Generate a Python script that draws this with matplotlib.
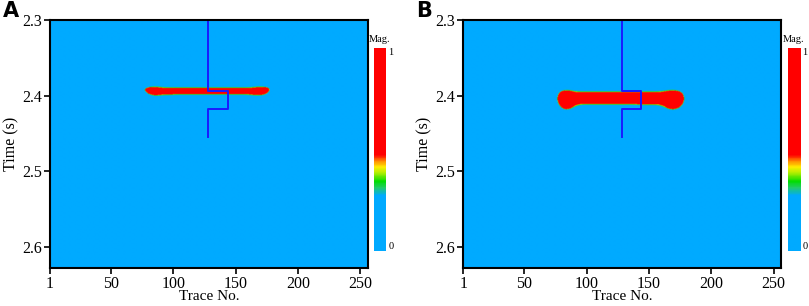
import numpy as np
import matplotlib

matplotlib.use("Agg")
import matplotlib.pyplot as plt  # noqa: E402
from matplotlib.colors import LinearSegmentedColormap  # noqa: E402

# event outline: trace number, top and bottom time (s)
a_traces = [77, 80, 85, 91, 100, 130, 160, 166, 171, 175, 177]
a_top = [2.3925, 2.3905, 2.3900, 2.3910, 2.3915, 2.3915, 2.3915, 2.3905, 2.3900, 2.3905, 2.3925]
a_bot = [2.3935, 2.3980, 2.4000, 2.3990, 2.3985, 2.3985, 2.3985, 2.3995, 2.3995, 2.3975, 2.3935]

b_traces = [77, 78, 80, 83, 87, 91, 95, 110, 140, 158, 162, 166, 170, 174, 177, 178]
b_top = [2.4040, 2.3985, 2.3955, 2.3945, 2.3950, 2.3965, 2.3970, 2.3970, 2.3970, 2.3970, 2.3960, 2.3950, 2.3945, 2.3955, 2.3985, 2.4040]
b_bot = [2.4060, 2.4115, 2.4160, 2.4185, 2.4175, 2.4130, 2.4115, 2.4115, 2.4115, 2.4120, 2.4140, 2.4175, 2.4185, 2.4165, 2.4115, 2.4060]

# blue polyline (well path)
well_trace = [128, 128, 144, 144, 128, 128]
well_time = [2.300, 2.3935, 2.3935, 2.418, 2.418, 2.455]

trace_range = (1, 256)
time_range = (2.3, 2.628)
x_ticks = [1, 50, 100, 150, 200, 250]
y_ticks = [2.3, 2.4, 2.5, 2.6]

cmap = LinearSegmentedColormap.from_list(
    "mag",
    [(0.0, "#00aaff"), (0.27, "#00aaff"), (0.31, "#22cc66"), (0.34, "#00dd00"),
     (0.38, "#aaee00"), (0.41, "#ffee00"), (0.44, "#ff8800"), (0.47, "#ff0000"),
     (1.0, "#ff0000")],
)


def _blur(arr, sigma, axis):
    r = int(3 * sigma) + 1
    k = np.exp(-0.5 * (np.arange(-r, r + 1) / sigma) ** 2)
    k /= k.sum()
    return np.apply_along_axis(lambda v: np.convolve(v, k, mode="same"), axis, arr)


def magnitude(traces, tops, bots):
    tr = np.arange(trace_range[0], trace_range[1] + 0.01, 0.5)
    tm = np.arange(time_range[0], time_range[1] + 1e-6, 0.0005)
    top = np.interp(tr, traces, tops, left=np.nan, right=np.nan)
    bot = np.interp(tr, traces, bots, left=np.nan, right=np.nan)
    T = tm[:, None]
    mask = ((T >= top[None, :]) & (T <= bot[None, :])).astype(float)
    sharp = np.clip(_blur(_blur(mask, 2.0, 1), 3.0, 0) * 1.15, 0, 1)
    wide = _blur(_blur(mask, 4.5, 1), 7.5, 0)
    halo = 0.45 * np.clip(wide / 0.5, 0, 1)
    return np.maximum(sharp, halo)


def panel(fig, rect, cbar_rect, letter, field):
    ax = fig.add_axes(rect)
    ax.imshow(field, cmap=cmap, vmin=0, vmax=1, aspect="auto", interpolation="bilinear",
              extent=[trace_range[0], trace_range[1], time_range[1], time_range[0]])
    ax.plot(well_trace, well_time, color="#1a1aff", lw=1.4)
    ax.set_xlim(*trace_range)
    ax.set_ylim(time_range[1], time_range[0])
    ax.set_xticks(x_ticks)
    ax.set_yticks(y_ticks)
    ax.set_yticklabels([f"{v:.1f}" for v in y_ticks])
    ax.tick_params(direction="out", length=4, width=1.2, labelsize=11.5, pad=2)
    for s in ax.spines.values():
        s.set_linewidth(1.5)
    ax.set_xlabel("Trace No.", fontsize=11, labelpad=-1.5)
    ax.set_ylabel("Time (s)", fontsize=11.5, labelpad=2)
    fig.text(rect[0] - 0.058, 0.997, letter, family="DejaVu Sans", fontweight="bold",
             fontsize=15, va="top", ha="left")

    cax = fig.add_axes(cbar_rect)
    cax.imshow(np.linspace(1, 0, 200)[:, None], cmap=cmap, vmin=0, vmax=1,
               aspect="auto", extent=[0, 1, 0, 1])
    cax.set_axis_off()
    cx = cbar_rect[0]
    top = cbar_rect[1] + cbar_rect[3]
    fig.text(cx + cbar_rect[2] / 2, top + 0.012, "Mag.", fontsize=7.5, ha="center", va="bottom")
    fig.text(cx + cbar_rect[2] + 0.003, top, "1", fontsize=7.5, ha="left", va="top")
    fig.text(cx + cbar_rect[2] + 0.003, cbar_rect[1], "0", fontsize=7.5, ha="left", va="bottom")


plt.rcParams["font.family"] = ["Liberation Serif", "DejaVu Serif"]
fig = plt.figure(figsize=(8.09, 3.06), dpi=100)

panel(fig, [0.0618, 0.1242, 0.393, 0.8105], [0.4623, 0.1807, 0.0145, 0.6634], "A",
      magnitude(a_traces, a_top, a_bot))
panel(fig, [0.5727, 0.1242, 0.3927, 0.8105], [0.9737, 0.1807, 0.0150, 0.6634], "B",
      magnitude(b_traces, b_top, b_bot))

fig.savefig("out.png", dpi=100)
